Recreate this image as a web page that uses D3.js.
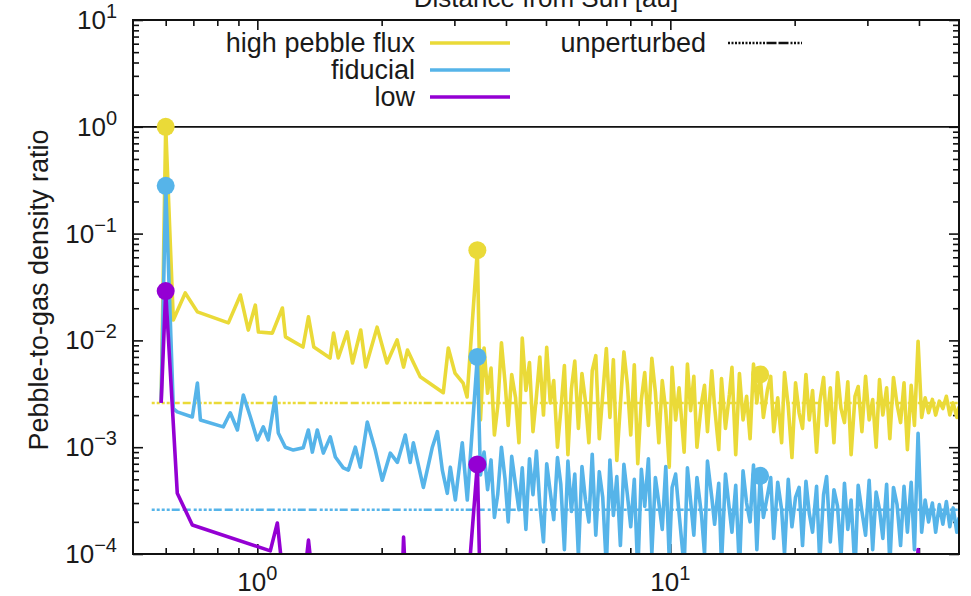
<!DOCTYPE html>
<meta charset="utf-8">
<style>

body { margin: 0; background: #fff; }
svg { display: block; font-family: "Liberation Sans", Arial, sans-serif; }
.axis path { display: none; }
.axis line { stroke: #111; stroke-width: 1.6; }
.frame { fill: none; stroke: #111; stroke-width: 2; }
.series { fill: none; stroke-width: 3.6; stroke-linejoin: round; }
text { fill: #1a1a1a; }

</style>

<svg width="971" height="596"></svg>

<script src="https://d3js.org/d3.v7.min.js"></script>
<script>

// series names and colours
var names = ["high pebble flux", "fiducial", "low"];
var colors = ["#eada38", "#56b4e9", "#9400d3"];

// unperturbed levels (dashed)
var unperturbed = [2.6e-3, 2.6e-4, 2.6e-5];
var unperturbedStart = 0.555;

// marked peaks
var peakR = [0.60, 3.41, 16.5];
var highPeaks = [1.0, 0.070, 4.8e-3];
var fidPeaks = [0.28, 7.0e-3, 5.4e-4];
var lowPeaks = [0.029, 6.9e-4, 5.0e-5];

// inner part, [r (au), ratio]
var highInner = [[0.585, 2.6e-3], [0.600, 1.0], [0.626, 0.0155], [0.669, 0.0278], [0.716, 0.0185],
  [0.851, 0.0146], [0.910, 0.0266], [0.951, 0.0125], [0.989, 0.0214], [1.006, 0.0120],
  [1.087, 0.0117], [1.15, 0.0201], [1.17, 0.0108], [1.29, 0.00867], [1.33, 0.0166],
  [1.37, 0.00867], [1.50, 0.00684], [1.53, 0.0117], [1.57, 0.00684], [1.65, 0.0120],
  [1.70, 0.00614], [1.78, 0.0125], [1.83, 0.00563], [1.95, 0.0133], [2.06, 0.00614],
  [2.18, 0.0101], [2.26, 0.00563], [2.31, 0.00813], [2.39, 0.00614], [2.48, 0.00457],
  [2.82, 0.00324], [2.90, 0.00849], [3.01, 0.00495], [3.15, 0.00398], [3.22, 0.00295],
  [3.41, 0.070]];

var fidInner = [[0.585, 2.6e-3], [0.600, 0.28], [0.626, 2.3e-3], [0.640, 2.14e-3], [0.696, 1.92e-3],
  [0.716, 3.99e-3], [0.728, 1.8e-3], [0.827, 1.55e-3], [0.860, 2.1e-3], [0.895, 1.45e-3],
  [0.925, 3.08e-3], [0.962, 1.92e-3], [1.000, 1.17e-3], [1.034, 1.55e-3], [1.063, 1.17e-3],
  [1.105, 2.95e-3], [1.124, 1.36e-3], [1.169, 1.0e-3], [1.222, 9.4e-4], [1.292, 9.9e-4],
  [1.329, 1.45e-3], [1.359, 9.0e-4], [1.397, 1.45e-3], [1.445, 8.8e-4], [1.502, 1.25e-3],
  [1.545, 8.1e-4], [1.615, 6.4e-4], [1.661, 6.1e-4], [1.727, 1.0e-3], [1.776, 6.5e-4],
  [1.846, 1.72e-3], [1.930, 9.4e-4], [2.007, 4.9e-4], [2.099, 8.8e-4], [2.183, 7.2e-4],
  [2.282, 1.3e-3], [2.345, 7.2e-4], [2.387, 1.1e-3], [2.524, 4.2e-4], [2.653, 1.0e-3],
  [2.729, 1.4e-3], [2.805, 6.1e-4], [2.884, 3.7e-4], [2.933, 6.5e-4], [3.016, 3.2e-4],
  [3.135, 1.1e-3], [3.224, 3.2e-4], [3.41, 7.0e-3]];

var lowPoints = [[0.585, 2.6e-3], [0.600, 0.029], [0.640, 3.7e-4], [0.696, 1.87e-4], [1.075, 1.07e-4],
  [1.118, 1.95e-4], [1.15, 7.0e-5], [1.30, 6.0e-5], [1.33, 1.35e-4], [1.36, 6.0e-5],
  [1.88, 5.5e-5], [1.90, 9.8e-5], [1.92, 5.5e-5], [2.24, 5.0e-5], [2.26, 1.44e-4],
  [2.29, 5.0e-5], [3.22, 4.0e-5], [3.41, 6.9e-4], [3.47, 3.5e-5], [16.5, 5.0e-5],
  [39.0, 3.0e-5], [39.8, 1.1e-4], [40.6, 3.0e-5], [50.0, 2.5e-5]];

// outer part, shared radial grid (au)
var outerR = [3.47, 3.54, 3.61, 3.68, 3.75, 3.82, 3.90, 3.98, 4.05, 4.13,
  4.22, 4.30, 4.38, 4.47, 4.56, 4.65, 4.74, 4.83, 4.93, 5.02,
  5.12, 5.22, 5.33, 5.43, 5.54, 5.65, 5.76, 5.87, 5.99, 6.11,
  6.23, 6.35, 6.47, 6.60, 6.73, 6.86, 7.00, 7.14, 7.28, 7.42,
  7.57, 7.72, 7.87, 8.02, 8.18, 8.34, 8.51, 8.67, 8.85, 9.02,
  9.20, 9.38, 9.56, 9.75, 9.94, 10.1, 10.3, 10.5, 10.8, 11.0,
  11.2, 11.4, 11.6, 11.9, 12.1, 12.3, 12.6, 12.8, 13.1, 13.3,
  13.6, 13.9, 14.1, 14.4, 14.7, 15.0, 15.3, 15.6, 15.9, 16.2,
  16.5, 16.8, 17.2, 17.5, 17.8, 18.2, 18.6, 18.9, 19.3, 19.7,
  20.1, 20.5, 20.9, 21.3, 21.7, 22.1, 22.6, 23.0, 23.5, 23.9,
  24.4, 24.9, 25.4, 25.9, 26.4, 26.9, 27.4, 28.0, 28.5, 29.1,
  29.7, 30.3, 30.9, 31.5, 32.1, 32.7, 33.4, 34.0, 34.7, 35.4,
  36.1, 36.8, 37.5, 38.3, 39.0, 39.8, 40.6, 41.4, 42.2, 43.1,
  43.9, 44.8, 45.7, 46.6, 47.5, 48.4, 49.4, 50.0];

var highOuter = [1.8e-3, 8.5e-3, 3.2e-3, 5.5e-3, 1.3e-3, 2.4e-3, 9.5e-3, 4.0e-3, 1.6e-3, 4.8e-3,
  2.9e-3, 1.1e-3, 1.05e-2, 3.4e-3, 6.2e-3, 1.4e-3, 3.0e-3, 7.0e-3, 2.0e-3, 8.6e-3,
  2.6e-3, 4.2e-3, 1.0e-3, 2.2e-3, 5.8e-3, 8.5e-4, 3.5e-3, 6.4e-3, 1.5e-3, 4.9e-3,
  2.7e-3, 1.1e-3, 5.2e-3, 7.2e-3, 1.2e-3, 3.1e-3, 8.4e-3, 1.9e-3, 6.6e-3, 7.5e-4,
  2.5e-3, 7.8e-3, 3.9e-3, 1.3e-3, 5.9e-3, 7.0e-4, 2.8e-3, 5.0e-3, 1.6e-3, 6.8e-3,
  3.3e-3, 1.1e-3, 4.2e-3, 2.2e-3, 6.5e-4, 5.6e-3, 1.8e-3, 3.6e-3, 9.0e-4, 6.0e-3,
  2.2e-3, 4.6e-3, 1.0e-3, 2.6e-3, 3.8e-3, 1.4e-3, 5.2e-3, 2.4e-3, 9.5e-4, 4.4e-3,
  1.5e-3, 3.1e-3, 5.6e-3, 8.5e-4, 4.9e-3, 1.8e-3, 3.0e-3, 1.2e-3, 6.0e-3, 2.6e-3,
  4.8e-3, 1.9e-3, 3.5e-3, 4.6e-3, 1.4e-3, 2.9e-3, 1.1e-3, 5.0e-3, 2.4e-3, 8.0e-4,
  4.0e-3, 2.1e-3, 1.5e-3, 4.8e-3, 1.8e-3, 3.4e-3, 9.0e-4, 2.6e-3, 4.5e-3, 1.6e-3,
  3.6e-3, 1.1e-3, 5.0e-3, 2.3e-3, 1.7e-3, 4.1e-3, 8.5e-4, 3.0e-3, 3.7e-3, 1.4e-3,
  4.6e-3, 1.8e-3, 2.8e-3, 1.0e-3, 4.3e-3, 2.0e-3, 3.6e-3, 1.2e-3, 4.5e-3, 2.5e-3,
  1.7e-3, 4.0e-3, 9.5e-4, 3.8e-3, 1.6e-3, 9.8e-3, 1.9e-3, 2.9e-3, 2.1e-3, 2.8e-3,
  2.0e-3, 2.7e-3, 2.3e-3, 3.0e-3, 2.0e-3, 2.6e-3, 1.9e-3, 2.4e-3];

var fidOuter = [5.5e-4, 9.0e-4, 4.0e-4, 7.6e-4, 2.2e-4, 3.6e-4, 1.0e-3, 5.0e-4, 2.0e-4, 8.2e-4,
  4.4e-4, 2.6e-4, 6.4e-4, 1.7e-4, 7.8e-4, 3.6e-4, 9.2e-4, 2.9e-4, 1.3e-4, 7.0e-4,
  3.8e-4, 2.1e-4, 8.0e-4, 4.5e-4, 1.1e-4, 7.4e-4, 2.5e-4, 5.6e-4, 9.5e-5, 6.6e-4,
  3.2e-4, 2.0e-4, 8.6e-4, 1.5e-4, 5.9e-4, 3.4e-4, 7.5e-5, 7.6e-4, 2.3e-4, 5.3e-4,
  1.2e-4, 6.9e-4, 3.6e-4, 1.8e-4, 5.0e-4, 6.5e-5, 6.2e-4, 2.8e-4, 7.8e-4, 1.0e-4,
  5.2e-4, 3.0e-4, 1.7e-4, 6.6e-4, 9.0e-5, 4.2e-4, 5.6e-4, 2.4e-4, 7.5e-5, 6.4e-4,
  3.1e-4, 1.5e-4, 5.2e-4, 2.3e-4, 1.0e-4, 7.4e-4, 3.4e-4, 1.9e-4, 4.6e-4, 8.0e-5,
  5.6e-4, 2.6e-4, 1.6e-4, 4.4e-4, 7.0e-5, 6.0e-4, 3.0e-4, 2.0e-4, 6.8e-4, 1.1e-4,
  5.4e-4, 2.2e-4, 3.6e-4, 5.2e-4, 1.4e-4, 4.7e-4, 2.6e-4, 1.0e-4, 5.0e-4, 1.8e-4,
  3.4e-4, 4.2e-4, 1.2e-4, 4.8e-4, 2.4e-4, 1.6e-4, 4.3e-4, 8.5e-5, 3.6e-4, 5.3e-4,
  1.3e-4, 4.0e-4, 2.8e-4, 9.5e-5, 4.6e-4, 1.7e-4, 3.2e-4, 7.0e-5, 4.4e-4, 2.5e-4,
  1.5e-4, 4.9e-4, 1.1e-4, 3.8e-4, 2.6e-4, 1.4e-4, 4.5e-4, 8.0e-5, 4.2e-4, 2.9e-4,
  1.2e-4, 4.3e-4, 1.6e-4, 4.7e-4, 1.1e-4, 1.35e-3, 1.6e-4, 3.2e-4, 2.0e-4, 3.0e-4,
  1.6e-4, 2.9e-4, 1.9e-4, 3.1e-4, 1.8e-4, 2.7e-4, 1.6e-4, 2.2e-4];

// tick labels: powers of ten
var xTickExps = [0, 1];
var yTickExps = [1, 0, -1, -2, -3, -4];
var xMinor = [0.6, 0.7, 0.8, 0.9, 2, 3, 4, 5, 6, 7, 8, 9, 20, 30, 40];

var svg = d3.select("svg");

var x = d3.scaleLog().domain([0.5, 50]).range([133, 959]);
var y = d3.scaleLog().domain([1e-4, 10]).range([554, 20]);

var yMajor = yTickExps.map(e => Math.pow(10, e));
var yMinor = [];
[1e-4, 1e-3, 1e-2, 1e-1, 1].forEach(d => d3.range(2, 10).forEach(k => yMinor.push(d * k)));
var xMajor = xTickExps.map(e => Math.pow(10, e));

svg.append("clipPath").attr("id", "plot")
  .append("rect")
    .attr("x", x.range()[0]).attr("y", y.range()[1])
    .attr("width", x.range()[1] - x.range()[0])
    .attr("height", y.range()[0] - y.range()[1]);

// ticks on all four sides, pointing inward
function ticks(axis, tx, ty) {
  svg.append("g").attr("class", "axis")
      .attr("transform", "translate(" + tx + "," + ty + ")")
      .call(axis.tickFormat(""));
}
ticks(d3.axisBottom(x).tickValues(xMajor).tickSize(-10), 0, y.range()[0]);
ticks(d3.axisBottom(x).tickValues(xMinor).tickSize(-6), 0, y.range()[0]);
ticks(d3.axisTop(x).tickValues(xMajor).tickSize(-10), 0, y.range()[1]);
ticks(d3.axisTop(x).tickValues(xMinor).tickSize(-6), 0, y.range()[1]);
ticks(d3.axisLeft(y).tickValues(yMajor).tickSize(-10), x.range()[0], 0);
ticks(d3.axisLeft(y).tickValues(yMinor).tickSize(-6), x.range()[0], 0);
ticks(d3.axisRight(y).tickValues(yMajor).tickSize(-10), x.range()[1], 0);
ticks(d3.axisRight(y).tickValues(yMinor).tickSize(-6), x.range()[1], 0);

// power-of-ten labels
function powerLabel(sel, e) {
  sel.append("tspan").text("10");
  sel.append("tspan").attr("font-size", 20).attr("dy", -11)
      .text(String(e).replace("-", "\u2212"));
}
yTickExps.forEach(e => {
  svg.append("text")
      .attr("x", x.range()[0] - 16)
      .attr("y", y(Math.pow(10, e)) + 9)
      .attr("font-size", 26)
      .attr("text-anchor", "end")
      .call(powerLabel, e);
});
xTickExps.forEach(e => {
  svg.append("text")
      .attr("x", x(Math.pow(10, e)))
      .attr("y", 591)
      .attr("font-size", 26)
      .attr("text-anchor", "middle")
      .call(powerLabel, e);
});

// axis titles
svg.append("text")
    .attr("transform", "translate(48," + ((y.range()[0] + y.range()[1]) / 2 + 3) + ") rotate(-90)")
    .attr("font-size", 27)
    .attr("text-anchor", "middle")
    .text("Pebble-to-gas density ratio");

svg.append("text")
    .attr("x", (x.range()[0] + x.range()[1]) / 2)
    .attr("y", 7)
    .attr("font-size", 26)
    .attr("text-anchor", "middle")
    .text("Distance from Sun [au]");

var line = d3.line().x(d => x(d[0])).y(d => y(d[1]));
var plot = svg.append("g").attr("clip-path", "url(#plot)");

// unperturbed levels
var dash = "3,2,3,2,3,2,3,2,8,3,8,3";
unperturbed.forEach((u, i) => {
  plot.append("path")
      .attr("fill", "none")
      .attr("stroke", colors[i])
      .attr("stroke-width", 2.5)
      .attr("stroke-dasharray", dash)
      .attr("d", line([[unperturbedStart, u], [50, u]]));
});

// ratio = 1
plot.append("path")
    .attr("fill", "none")
    .attr("stroke", "#111")
    .attr("stroke-width", 1.8)
    .attr("d", line([[0.5, 1], [50, 1]]));

var seriesData = [
  highInner.concat(d3.zip(outerR, highOuter)),
  fidInner.concat(d3.zip(outerR, fidOuter)),
  lowPoints
];
var peaks = [highPeaks, fidPeaks, lowPeaks];

seriesData.forEach((s, i) => {
  plot.append("path")
      .attr("class", "series")
      .attr("stroke", colors[i])
      .attr("d", line(s));
  plot.selectAll(null)
    .data(d3.zip(peakR, peaks[i]))
    .enter()
    .append("circle")
      .attr("cx", d => x(d[0]))
      .attr("cy", d => y(d[1]))
      .attr("r", 9)
      .attr("fill", colors[i]);
});

svg.append("rect").attr("class", "frame")
    .attr("x", x.range()[0]).attr("y", y.range()[1])
    .attr("width", x.range()[1] - x.range()[0])
    .attr("height", y.range()[0] - y.range()[1]);

// legend
var legend = svg.append("g");
names.forEach((n, i) => {
  var ly = 43 + i * 27;
  legend.append("text")
      .attr("x", 415).attr("y", ly + 9)
      .attr("font-size", 27)
      .attr("text-anchor", "end")
      .text(n);
  legend.append("line")
      .attr("x1", 430).attr("x2", 510)
      .attr("y1", ly).attr("y2", ly)
      .attr("stroke", colors[i]).attr("stroke-width", 3.6);
});
legend.append("text")
    .attr("x", 706).attr("y", 52)
    .attr("font-size", 27)
    .attr("text-anchor", "end")
    .text("unperturbed");
legend.append("line")
    .attr("x1", 728).attr("x2", 802)
    .attr("y1", 43).attr("y2", 43)
    .attr("stroke", "#111").attr("stroke-width", 2.5)
    .attr("stroke-dasharray", "2,1.5,2,1.5,2,1.5,2,1.5,2,1.5,2,1.5,2,1.5,2,1.5,2,1.5,2,1.5,2,1.5,10,2,10,2");

</script>
